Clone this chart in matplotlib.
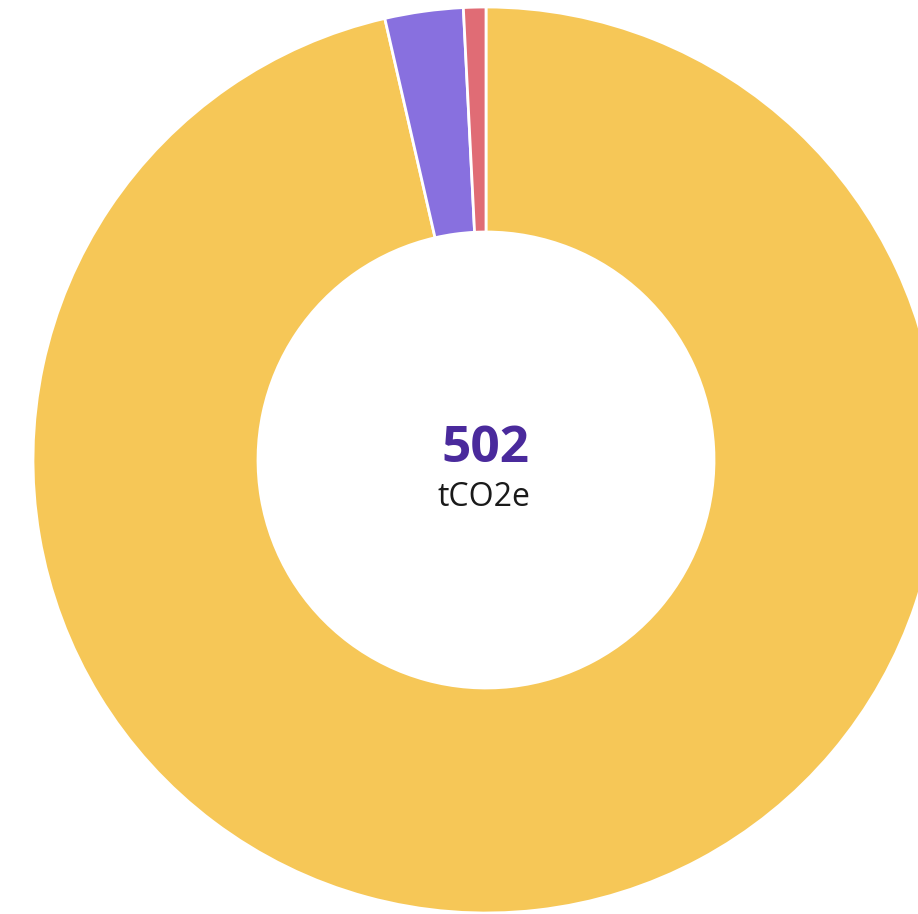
import matplotlib
matplotlib.use("Agg")
import matplotlib.pyplot as plt

# emissions split (tCO2e)
labels = ["Category A", "Category B", "Category C"]
values = [484, 14, 4]
colors = ["#F6C757", "#8870DF", "#E06C75"]
total_label = "502"
unit_label = "tCO2e"

fig = plt.figure(figsize=(9.18, 9.14), dpi=100)
ax = fig.add_axes([0, 0, 1, 1])

# donut, clockwise from 12 o'clock
ax.pie(values, colors=colors, startangle=90, counterclock=False,
       center=(486, 454), radius=453, frame=True,
       wedgeprops=dict(width=225, edgecolor="white", linewidth=2))
ax.set_xlim(0, 918)
ax.set_ylim(0, 914)
ax.axis("off")

ax.text(485, 465, total_label, ha="center", va="center", fontsize=37,
        fontweight="bold", color="#4A2A9C", family="Open Sans")
ax.text(484, 417, unit_label, ha="center", va="center", fontsize=23,
        color="#1a1a1a", family="Open Sans")

fig.savefig("out.png", dpi=100)
